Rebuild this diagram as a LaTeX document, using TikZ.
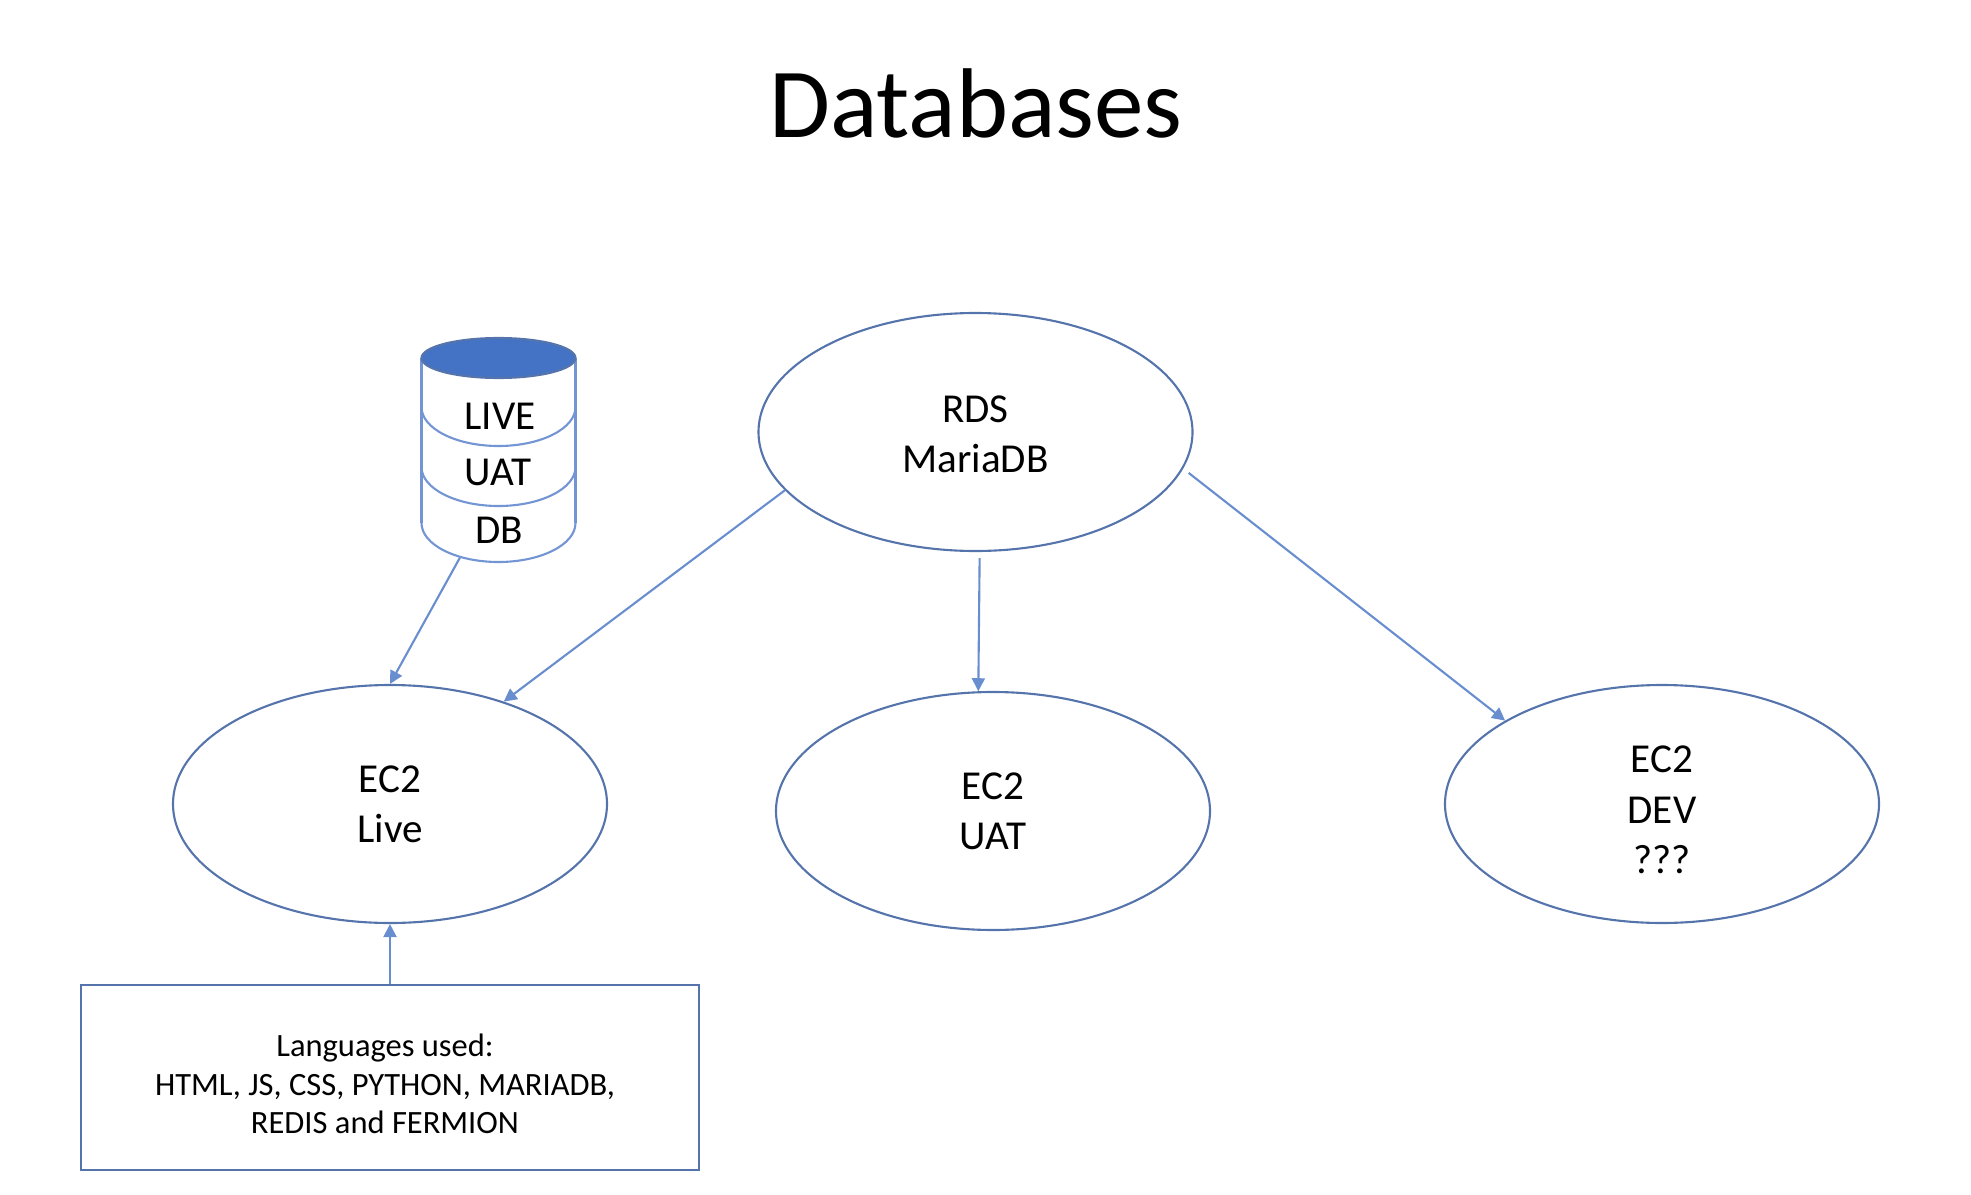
\documentclass[tikz,border=0pt]{standalone}
\usepackage{fontspec}
\setmainfont{Carlito}
\usetikzlibrary{arrows.meta, shapes.geometric}
\definecolor{cblue}{HTML}{4472C4}
\definecolor{cedge}{HTML}{5674AC}
\tikzset{
  every picture/.style={line width=0.6pt},
  host/.style={ellipse, draw=cedge, align=center, inner sep=0pt, minimum width=4.34cm, minimum height=2.38cm, font=\fontsize{11.7}{14.3}\selectfont},
  hosttext/.style={align=center, inner sep=0pt, font=\fontsize{11.7}{14.3}\selectfont},
  arrow/.style={-{Triangle[length=1.3mm, width=1.3mm]}, draw=cblue!80},
  title/.style={font=\fontsize{28.2}{32}\selectfont},
  stackline/.style={draw=cblue!75},
  stacklabel/.style={font=\fontsize{11.7}{14.3}\selectfont, inner sep=0pt},
  note/.style={draw=cedge, minimum width=6.18cm, minimum height=1.85cm, inner sep=0pt},
  notetext/.style={align=center, inner sep=0pt, font=\fontsize{9.25}{10.9}\selectfont},
}
\begin{document}
\begin{tikzpicture}
  \useasboundingbox (0,0) rectangle (19.71,11.94);
  \node[title] (head) at (9.76,10.91) {Databases};

  % the hosts
  \node[host] (rds)  at (9.755,7.62) {};
  \node[hosttext] (rdstext) at (9.755,7.595) {RDS\\MariaDB};
  \node[host] (live) at (3.90,3.90)  {EC2\\Live};
  \node[host] (uat)  at (9.93,3.83)  {EC2\\UAT};
  \node[host] (dev)  at (16.62,3.90) {};
  \node[hosttext] (devtext) at (16.62,3.84) {EC2\\DEV\\???};
  \node[note] (langs) at (3.90,1.165) {};
  \node[notetext] (langstext) at (3.85,1.10) {Languages used:\\HTML, JS, CSS, PYTHON, MARIADB,\\REDIS and FERMION};

  % the database stack
  \draw[stackline] (4.215,8.36) -- (4.215,6.71);
  \draw[stackline] (5.755,8.36) -- (5.755,6.71);
  \foreach \y in {7.87, 7.27, 6.71}
    \draw[stackline] (4.215,\y) arc[start angle=180, end angle=360, x radius=0.77, y radius=0.39];
  \node[ellipse, draw=cedge, fill=cblue, inner sep=0pt, minimum width=1.54cm, minimum height=0.40cm] (dbtop) at (4.985,8.36) {};
  \node[ellipse, inner sep=0pt, minimum width=1.54cm, minimum height=0.78cm] (dbbase) at (4.985,6.71) {};
  \node[stacklabel] (dblive) at (5.00,7.78) {LIVE};
  \node[stacklabel] (dbuat)  at (4.98,7.22) {UAT};
  \node[stacklabel] (dbname) at (4.99,6.64) {DB};

  % connectors
  \draw[arrow] (dbbase.222) -- (live.90);
  \draw[arrow] (rds.197) -- (live.42);
  \draw[arrow, shorten <=0.06cm] (rds.272) -- (uat.97);
  \draw[arrow, shorten <=0.07cm] (rds.350) -- (dev.152);
  \draw[arrow] (langs.north) -- (live.south);
\end{tikzpicture}
\end{document}
